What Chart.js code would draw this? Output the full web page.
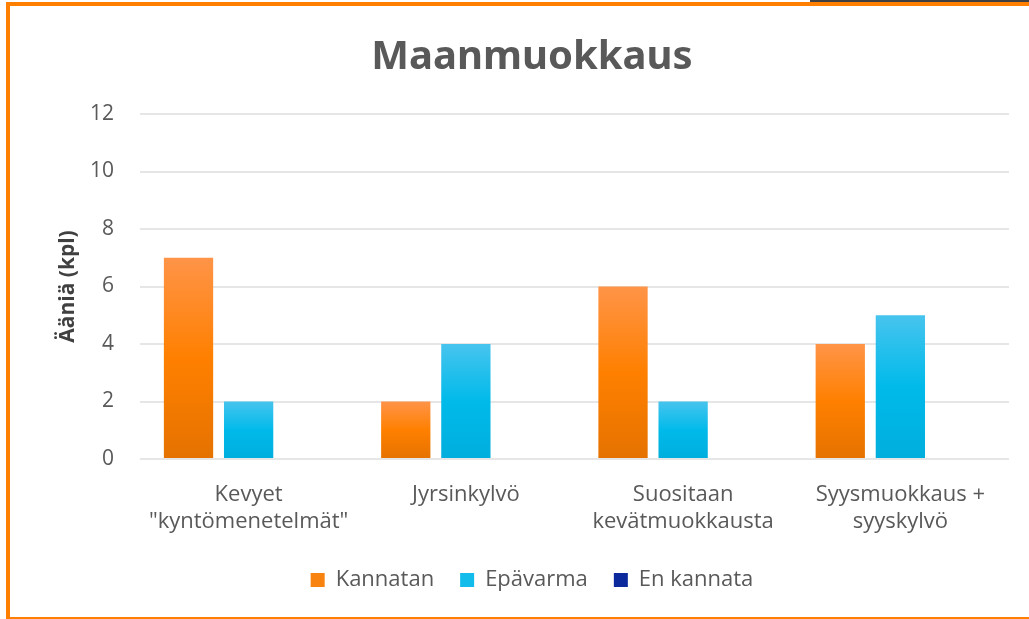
<!DOCTYPE html>
<html>
<head>
<meta charset="utf-8">
<script src="https://cdn.jsdelivr.net/npm/chart.js@4"></script>
<style>
  body { margin: 0; background: #fff; overflow: hidden; }
  #frame { position: absolute; left: 6px; top: 2px; width: 1040px; height: 611px; border: 4px solid #FF8000; border-right: none; box-sizing: content-box; }
  #corner { position: absolute; left: 810px; top: 0; width: 219px; height: 2px; background: #404040; }
  #wrap { position: absolute; left: 0; top: 0; width: 1029px; height: 619px; }
</style>
</head>
<body>
<div id="corner"></div>
<div id="frame"></div>
<div id="wrap"><canvas id="myChart"></canvas></div>
<script>
// data ==>
var categories = [["Kevyet", "\"kyntömenetelmät\""], "Jyrsinkylvö", ["Suositaan", "kevätmuokkausta"], ["Syysmuokkaus +", "syyskylvö"]]
var kannatan = [7, 2, 6, 4]
var epavarma = [2, 4, 2, 5]
var enKannata = [0, 0, 0, 0]
var yTicks = [0, 2, 4, 6, 8, 10, 12]

var solid = ["#F98311", "#12BCEA", "#0C2A9C"]
var stops = [
    ["#FF9448", "#FF8000", "#E57200"],
    ["#47C4EE", "#00BAEA", "#00AEDD"],
    ["#2C4BB5", "#0C2A9C", "#061E80"]
]

// gradient per bar (top light -> bottom dark) ==>
function grad(i) {
    return function (context) {
        var chart = context.chart
        if (!chart.chartArea || context.type !== 'data') return solid[i]
        var y = chart.scales.y
        var top = y.getPixelForValue(context.parsed.y)
        var bottom = y.getPixelForValue(0)
        if (bottom - top < 1) return solid[i]
        var g = chart.ctx.createLinearGradient(0, top, 0, bottom)
        g.addColorStop(0, stops[i][0])
        g.addColorStop(0.5, stops[i][1])
        g.addColorStop(1, stops[i][2])
        return g
    }
}

Chart.defaults.font.family = "'Open Sans', 'Noto Sans', sans-serif"
Chart.defaults.color = "#595959"

const ctx = document.getElementById('myChart');
new Chart(ctx, {
    type: 'bar',
    data: {
        labels: categories,
        datasets: [
            { label: 'Kannatan', data: kannatan, backgroundColor: grad(0) },
            { label: 'Epävarma', data: epavarma, backgroundColor: grad(1) },
            { label: 'En kannata', data: enKannata, backgroundColor: grad(2) }
        ]
    },
    options: {
        responsive: true,
        maintainAspectRatio: false,
        animation: false,
        categoryPercentage: 0.83,
        barPercentage: 0.82,
        layout: { padding: { top: 34, right: 20, bottom: 18, left: 55 } },
        plugins: {
            title: {
                display: true,
                text: 'Maanmuokkaus',
                color: '#595959',
                font: { size: 40, weight: 'bold', family: "'Noto Sans', sans-serif" },
                padding: { top: 0, bottom: 32 }
            },
            legend: {
                position: 'bottom',
                labels: {
                    boxWidth: 14,
                    boxHeight: 14,
                    padding: 26,
                    font: { size: 22 },
                    color: '#595959',
                    generateLabels: function (chart) {
                        var items = Chart.defaults.plugins.legend.labels.generateLabels(chart)
                        items.forEach(function (it, i) {
                            it.fillStyle = solid[i]
                            it.strokeStyle = solid[i]
                            it.lineWidth = 0
                        })
                        return items
                    }
                }
            },
            tooltip: { enabled: false }
        },
        scales: {
            x: {
                afterFit: function (axis) { axis.height = 84 },
                grid: { display: false },
                border: { display: false },
                ticks: { font: { size: 22 }, color: '#595959', maxRotation: 0, padding: 15 }
            },
            y: {
                min: 0,
                max: 12,
                afterBuildTicks: function (axis) {
                    axis.ticks = yTicks.map(function (v) { return { value: v } })
                },
                afterFit: function (axis) { axis.width = 85 },
                grid: { color: '#E6E6E6', lineWidth: 2, drawTicks: false },
                border: { display: false },
                ticks: { font: { size: 21 }, color: '#595959', padding: 26 },
                title: {
                    display: true,
                    text: 'Ääniä (kpl)',
                    color: '#404040',
                    font: { size: 21, weight: 'bold' },
                    padding: { top: 0, bottom: 0 }
                }
            }
        }
    }
});
</script>
</body>
</html>
